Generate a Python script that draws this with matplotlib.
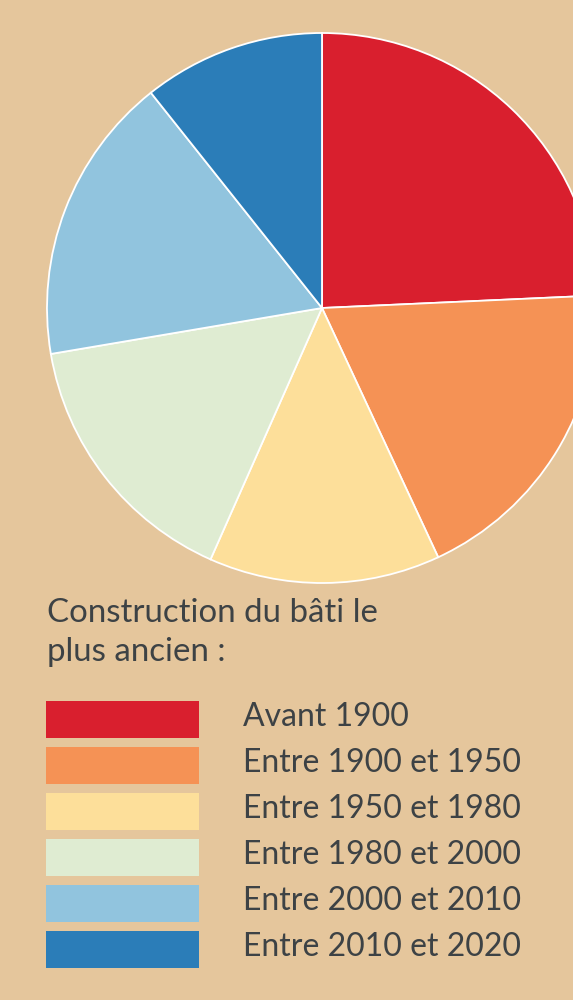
import matplotlib.pyplot as plt
from matplotlib.patches import Rectangle

# share of buildings by construction period (%)
periods = ["Avant 1900", "Entre 1900 et 1950", "Entre 1950 et 1980",
           "Entre 1980 et 2000", "Entre 2000 et 2010", "Entre 2010 et 2020"]
shares = [24.3, 18.8, 13.6, 15.7, 17.0, 10.7]
colors = ["#d91f2e", "#f59255", "#fddf9a", "#dfecd2", "#91c4de", "#2b7db8"]
title = "Construction du bâti le\nplus ancien :"

bg = "#e5c69c"
txt = "#3d4245"
plt.rcParams['font.family'] = ['Lato', 'DejaVu Sans']

fig = plt.figure(figsize=(5.73, 10), dpi=100, facecolor=bg)
ax = fig.add_axes([0, 0, 1, 1])
ax.set_facecolor(bg)

ax.pie(shares, colors=colors, startangle=90, counterclock=False,
       center=(322, 1000 - 308), radius=275, frame=True,
       wedgeprops=dict(edgecolor='white', linewidth=1.3))
ax.set_xlim(0, 573)
ax.set_ylim(0, 1000)
ax.set_aspect('equal')
ax.axis('off')

fs = 23
ax.text(47, 1000 - 622, "Construction du bâti le", fontsize=fs + 0.8,
        color=txt, va='baseline', ha='left')
ax.text(47, 1000 - 661, "plus ancien :", fontsize=fs + 0.8,
        color=txt, va='baseline', ha='left')

for i, (lab, c) in enumerate(zip(periods, colors)):
    top = 701 + i * 46
    ax.add_patch(Rectangle((46, 1000 - top - 37), 153, 37, facecolor=c,
                           edgecolor='none'))
    ax.text(243, 1000 - (726 + i * 46), lab, fontsize=fs, color=txt,
            va='baseline', ha='left')

fig.savefig('out.png', dpi=100, facecolor=bg)
